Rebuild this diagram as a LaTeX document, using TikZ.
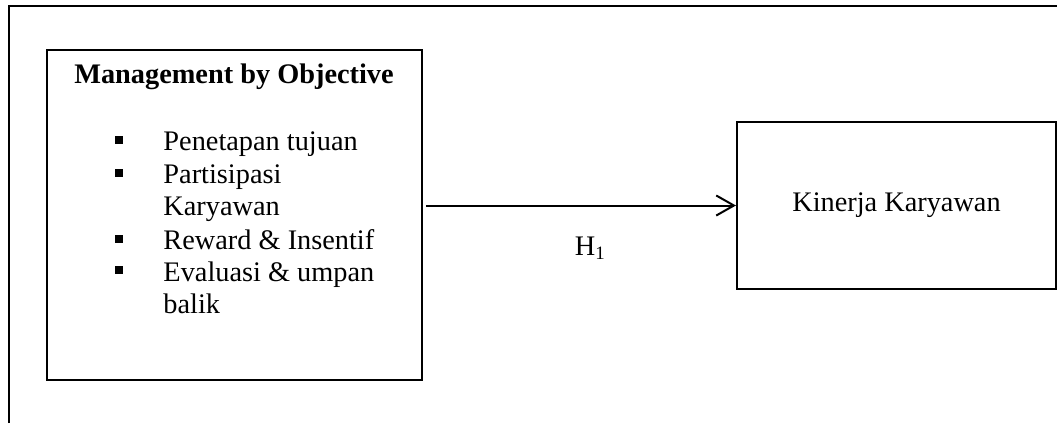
\documentclass[tikz,border=0pt]{standalone}
\usepackage{fontspec}
\setmainfont{Liberation Serif}
\usepackage{tikz}
\usetikzlibrary{arrows.meta, positioning}

\begin{document}
\begin{tikzpicture}[
    x=0.4237pt, y=-0.4237pt,
    every node/.style={font=\fontsize{12}{13.8}\selectfont},
    frame/.style={line width=0.85pt},
    box/.style={rectangle, draw, line width=0.85pt, inner sep=0pt},
    item/.style={anchor=base west, inner sep=0pt},
    sq/.style={rectangle, fill=black, minimum size=3pt, inner sep=0pt},
    arr/.style={-{Straight Barb[length=7.5pt, width=8.5pt]}, line width=0.85pt},
    hlabel/.style={inner sep=0pt}
]
\useasboundingbox (0,0) rectangle (1057,423);

% outer frame (only top and left sides visible)
\draw[frame] (9,423) -- (9,6) -- (1057,6);

\node[box, minimum width=158.9pt, minimum height=139.8pt] (mbo) at (234.5,215) {};
\node[box, minimum width=135.2pt, minimum height=70.8pt]
    (kinerja) at (896.5,205.5) {Kinerja Karyawan};

\node[anchor=base, inner sep=0pt, font=\fontsize{12}{13.8}\selectfont\bfseries]
    (title) at (234,83) {Management by Objective};

\node[sq] (b1) at (119,140) {};
\node[sq] (b2) at (119,173) {};
\node[sq] (b3) at (119,239) {};
\node[sq] (b4) at (119,270) {};

\node[item] (i1)  at (163,150) {Penetapan tujuan};
\node[item] (i2)  at (163,183) {Partisipasi};
\node[item] (i2b) at (163,215) {Karyawan};
\node[item] (i3)  at (163,249) {Reward \& Insentif};
\node[item] (i4)  at (163,281) {Evaluasi \& umpan};
\node[item] (i4b) at (163,313) {balik};

\draw[arr] ([xshift=1.2pt]kinerja.west -| mbo.east) -- (kinerja.west)
    node[hlabel, midway, below=13pt, xshift=4pt] (hyp) {H\textsubscript{1}};
\end{tikzpicture}
\end{document}
